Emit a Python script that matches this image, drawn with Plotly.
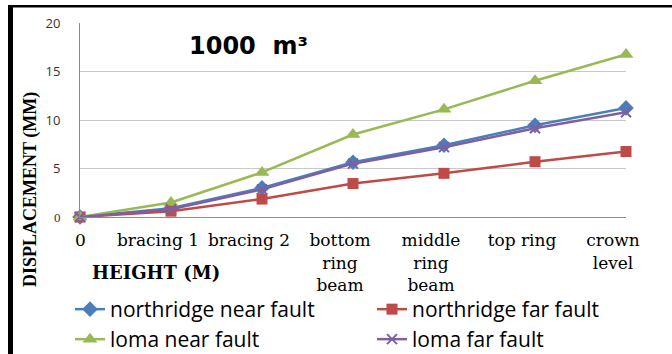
import plotly.graph_objects as go

categories = ["0", "bracing 1", "bracing 2", "bottom<br>ring<br>beam",
              "middle<br>ring<br>beam", "top ring", "crown<br>level"]
northridge_near = [0, 0.9, 3.0, 5.65, 7.4, 9.45, 11.25]
northridge_far = [0, 0.6, 1.85, 3.45, 4.5, 5.7, 6.75]
loma_near = [0, 1.5, 4.6, 8.5, 11.1, 14.05, 16.75]
loma_far = [0, 0.8, 2.85, 5.5, 7.2, 9.15, 10.8]
y_ticks = [0, 5, 10, 15, 20]
y_tick_text = ['<span style="font-family:Liberation Serif">0</span>', "5", "10", "15", "20"]

xs = list(range(len(categories)))
# the first label sits right under its point in the reference; pad it to cancel the shared shift
tick_text = ["&nbsp;" * 5 + categories[0]] + categories[1:]

series = [
    ("northridge near fault", northridge_near, "#4A7EBB", dict(symbol="diamond", size=12), "legend"),
    ("northridge far fault", northridge_far, "#BE4B48", dict(symbol="square", size=11), "legend2"),
    ("loma near fault", loma_near, "#98B954", dict(symbol="triangle-up", size=13), "legend3"),
    ("loma far fault", loma_far, "#7D60A0", dict(symbol="x-thin", size=10, line=dict(width=2, color="#7D60A0")), "legend4"),
]

fig = go.Figure()
for name, vals, color, mk, lg in series:
    fig.add_trace(go.Scatter(
        x=xs, y=vals, name=name, mode="lines+markers",
        line=dict(color=color, width=2.5),
        marker=dict(color=color, **mk),
        cliponaxis=False, legend=lg,
    ))

def leg(xpx, ypx):
    return dict(orientation="h", xref="container", yref="container",
                x=xpx / 672, y=1 - ypx / 354, xanchor="left", yanchor="top",
                font=dict(family="Open Sans", size=21, color="black"),
                bgcolor="rgba(0,0,0,0)")

fig.update_layout(
    width=672, height=354,
    margin=dict(l=80, r=46, t=23, b=137, autoexpand=False),
    paper_bgcolor="white", plot_bgcolor="white",
    showlegend=True,
    legend=leg(70, 289),
    legend2=leg(372, 289),
    legend3=leg(70, 319),
    legend4=leg(372, 319),
    xaxis=dict(range=[0, 6], tickvals=xs, ticktext=tick_text,
               showgrid=False, zeroline=False, showline=True,
               linecolor="#8c8c8c", linewidth=1, ticks="", automargin=False,
               tickfont=dict(family="DejaVu Serif", size=17, color="black"),
               ticklabelshift=-13, ticklabelstandoff=8),
    yaxis=dict(range=[0, 20], tickvals=y_ticks, ticktext=y_tick_text,
               showgrid=True, gridcolor="#c8c8c8", gridwidth=1, automargin=False,
               zeroline=False, showline=True, linecolor="#8c8c8c", linewidth=1,
               ticks="", ticklabelstandoff=16,
               tickfont=dict(family="Open Sans", size=13, color="#333333")),
    annotations=[
        dict(text="<b>1000  m³</b>", xref="paper", yref="paper",
             x=(248 - 80) / 546, y=(217 - 46) / 194, showarrow=False,
             xanchor="center", yanchor="middle",
             font=dict(family="DejaVu Sans", size=24, color="black")),
        dict(text="<b>HEIGHT (M)</b>", xref="paper", yref="paper",
             x=(156 - 80) / 546, y=(217 - 272) / 194, showarrow=False,
             xanchor="center", yanchor="middle",
             font=dict(family="DejaVu Serif", size=18, color="black")),
        dict(text="<b>DISPLACEMENT (MM)</b>", xref="paper", yref="paper",
             x=(30 - 80) / 546, y=(217 - 190) / 194, showarrow=False, textangle=-90,
             xanchor="center", yanchor="middle",
             font=dict(family="Liberation Serif", size=18, color="black")),
    ],
    shapes=[
        dict(type="rect", xref="paper", yref="paper", xsizemode="pixel", ysizemode="pixel",
             xanchor=0, yanchor=1, x0=-72, x1=-67, y0=-340, y1=18,
             fillcolor="black", line=dict(width=0)),
        dict(type="rect", xref="paper", yref="paper", xsizemode="pixel", ysizemode="pixel",
             xanchor=0, yanchor=1, x0=-72, x1=600, y0=15.5, y1=18,
             fillcolor="black", line=dict(width=0)),
    ],
)

fig.write_html("out.html")
